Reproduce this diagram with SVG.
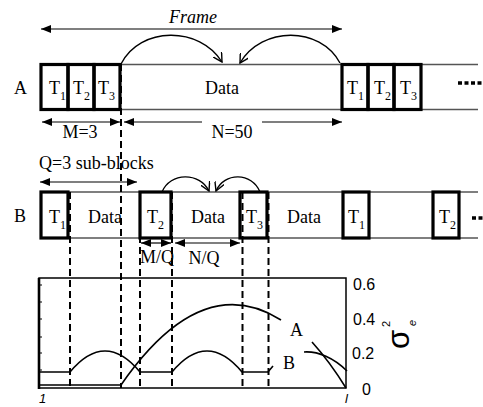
<svg xmlns="http://www.w3.org/2000/svg" width="483" height="407" viewBox="0 0 483 407">
<defs>
<style>
.serif{font-family:"Liberation Serif","Times New Roman",serif;fill:#000}
.sans{font-family:"Liberation Sans",Arial,sans-serif;fill:#000}
.lbl{font-size:18px}
.sub{font-size:12px}
.box{fill:none;stroke:#000;stroke-width:3.2}
.band{stroke:#555;stroke-width:1.3;fill:none}
.dash{stroke:#000;stroke-width:2;stroke-dasharray:7 4;fill:none}
.arr{stroke:#000;stroke-width:1.2;fill:none;marker-start:url(#ah);marker-end:url(#ah)}
.arr1{stroke:#000;stroke-width:1.2;fill:none;marker-end:url(#ah)}
.curv{stroke:#000;stroke-width:1.4;fill:none;marker-end:url(#oh)}
.crv{stroke:#000;stroke-width:1.6;fill:none}
.dots{stroke:#000;stroke-width:3.5;stroke-dasharray:4 2.5}
</style>
<marker id="ah" viewBox="0 0 10 8" refX="10" refY="4" markerWidth="10" markerHeight="8" markerUnits="userSpaceOnUse" orient="auto-start-reverse">
<path d="M0,0 L10,4 L0,8 Z" fill="#000"/>
</marker>
<marker id="oh" viewBox="0 0 10 10" refX="9" refY="5" markerWidth="10" markerHeight="10" markerUnits="userSpaceOnUse" orient="auto">
<path d="M0,0 L9,5 L0,10" fill="none" stroke="#000" stroke-width="1.4"/>
</marker>
</defs>
<rect width="483" height="407" fill="#fff"/>

<!-- Row A -->
<g id="rowA">
<line class="band" x1="41" y1="64.5" x2="478" y2="64.5"/>
<line class="band" x1="41" y1="109.5" x2="478" y2="109.5"/>
<text class="serif lbl" x="14" y="94">A</text>
<text class="serif lbl" x="222" y="94" text-anchor="middle">Data</text>
<line class="dots" x1="458" y1="83" x2="483" y2="83"/>
</g>
<g id="A-T1"><rect class="box" x="41" y="64.5" width="27" height="45"/><text class="serif lbl" x="49" y="94">T<tspan class="sub" dy="6">1</tspan></text></g>
<g id="A-T2"><rect class="box" x="68" y="64.5" width="26" height="45"/><text class="serif lbl" x="73" y="94">T<tspan class="sub" dy="6">2</tspan></text></g>
<g id="A-T3"><rect class="box" x="94" y="64.5" width="26" height="45"/><text class="serif lbl" x="98" y="94">T<tspan class="sub" dy="6">3</tspan></text></g>
<g id="A-T1b"><rect class="box" x="342" y="64.5" width="26" height="45"/><text class="serif lbl" x="347" y="94">T<tspan class="sub" dy="6">1</tspan></text></g>
<g id="A-T2b"><rect class="box" x="368" y="64.5" width="26" height="45"/><text class="serif lbl" x="374" y="94">T<tspan class="sub" dy="6">2</tspan></text></g>
<g id="A-T3b"><rect class="box" x="394" y="64.5" width="27" height="45"/><text class="serif lbl" x="400" y="94">T<tspan class="sub" dy="6">3</tspan></text></g>

<!-- Row B -->
<g id="rowB">
<line class="band" x1="41" y1="192" x2="478" y2="192"/>
<line class="band" x1="41" y1="238" x2="478" y2="238"/>
<text class="serif lbl" x="14" y="222">B</text>
<text class="serif lbl" x="105" y="223" text-anchor="middle">Data</text>
<text class="serif lbl" x="208" y="223" text-anchor="middle">Data</text>
<text class="serif lbl" x="304" y="223" text-anchor="middle">Data</text>
<line class="dots" x1="472" y1="218" x2="490" y2="218"/>
</g>
<g id="B-T1"><rect class="box" x="41" y="192" width="27" height="46"/><text class="serif lbl" x="49" y="223">T<tspan class="sub" dy="6">1</tspan></text></g>
<g id="B-T2"><rect class="box" x="140" y="192" width="31" height="46"/><text class="serif lbl" x="147" y="223">T<tspan class="sub" dy="6">2</tspan></text></g>
<g id="B-T3"><rect class="box" x="240" y="192" width="27" height="46"/><text class="serif lbl" x="246" y="223">T<tspan class="sub" dy="6">3</tspan></text></g>
<g id="B-T1b"><rect class="box" x="343" y="192" width="26" height="46"/><text class="serif lbl" x="348" y="223">T<tspan class="sub" dy="6">1</tspan></text></g>
<g id="B-T2b"><rect class="box" x="433" y="192" width="26" height="46"/><text class="serif lbl" x="439" y="223">T<tspan class="sub" dy="6">2</tspan></text></g>

<!-- Dimension labels -->
<g id="labels">
<text class="serif lbl" x="193" y="23" text-anchor="middle" font-style="italic">Frame</text>
<text class="serif lbl" x="80" y="138" text-anchor="middle">M=3</text>
<text class="serif lbl" x="232" y="138" text-anchor="middle">N=50</text>
<text class="serif lbl" x="39" y="169">Q=3 sub-blocks</text>
<text class="serif lbl" x="157" y="263" text-anchor="middle">M/Q</text>
<text class="serif lbl" x="204" y="264" text-anchor="middle">N/Q</text>
</g>

<!-- Connectors -->
<g id="connectors">
<line class="arr" x1="41" y1="29" x2="342" y2="29"/>
<line class="arr" x1="42" y1="122" x2="120" y2="122"/>
<line class="arr1" x1="202" y1="122" x2="124" y2="122"/>
<line class="arr1" x1="262" y1="122" x2="342" y2="122"/>
<line class="arr" x1="40" y1="182" x2="137" y2="182"/>
<line class="arr" x1="141" y1="243" x2="171" y2="243"/>
<line class="arr" x1="175" y1="243" x2="240" y2="243"/>
<path class="curv" d="M121,64 C140,26 200,26 222,62"/>
<path class="curv" d="M340,63 C320,26 262,26 240,63"/>
<path class="curv" d="M162,192 C170,172 200,172 209,191"/>
<path class="curv" d="M260,192 C252,172 224,172 216,191"/>
<line class="dash" x1="121" y1="64" x2="121" y2="388"/>
<line class="dash" x1="70" y1="192" x2="70" y2="388"/>
<line class="dash" x1="140" y1="192" x2="140" y2="388"/>
<line class="dash" x1="172" y1="192" x2="172" y2="388"/>
<line class="dash" x1="242.5" y1="192" x2="242.5" y2="388"/>
<line class="dash" x1="268.5" y1="192" x2="268.5" y2="388"/>
</g>

<!-- Plot -->
<g id="plot">
<rect x="39" y="278" width="307" height="110" fill="none" stroke="#000" stroke-width="1.5"/>
<line x1="39" y1="278" x2="39" y2="389" stroke="#000" stroke-width="2.6"/>
<path d="M39,285h3M39,302h3M39,319h3M39,337h3M39,353h3M39,370h3" stroke="#000" stroke-width="1"/>
<path class="crv" d="M39,385 H120 M121,385 Q201,269.6 281,320"/>
<path class="crv" d="M39,372 H70 Q105,330 140,372 H172 Q207,330 242,372 H268 L273,366"/>
<path class="crv" d="M304,352 C318,351 334,358 347,371"/>
<path class="crv" d="M312,342 Q330,362 346,388"/>
<text class="serif lbl" x="290" y="336">A</text>
<text class="serif lbl" x="283" y="369">B</text>
<text class="sans" font-size="16" x="353" y="290">0.6</text>
<text class="sans" font-size="16" x="353" y="325">0.4</text>
<text class="sans" font-size="16" x="352" y="359">0.2</text>
<text class="sans" font-size="16" x="362" y="395">0</text>
<text class="sans" font-size="13" font-style="italic" x="39" y="403">1</text>
<text class="sans" font-size="13" font-style="italic" x="345" y="403">l</text>
<g transform="translate(409,349) rotate(-90)">
<text class="sans" font-size="31" x="0" y="0">σ</text>
<text class="sans" font-size="11" x="22" y="-19">2</text>
<text class="sans" font-size="11" font-style="italic" x="23" y="7">e</text>
</g>
</g>
</svg>
